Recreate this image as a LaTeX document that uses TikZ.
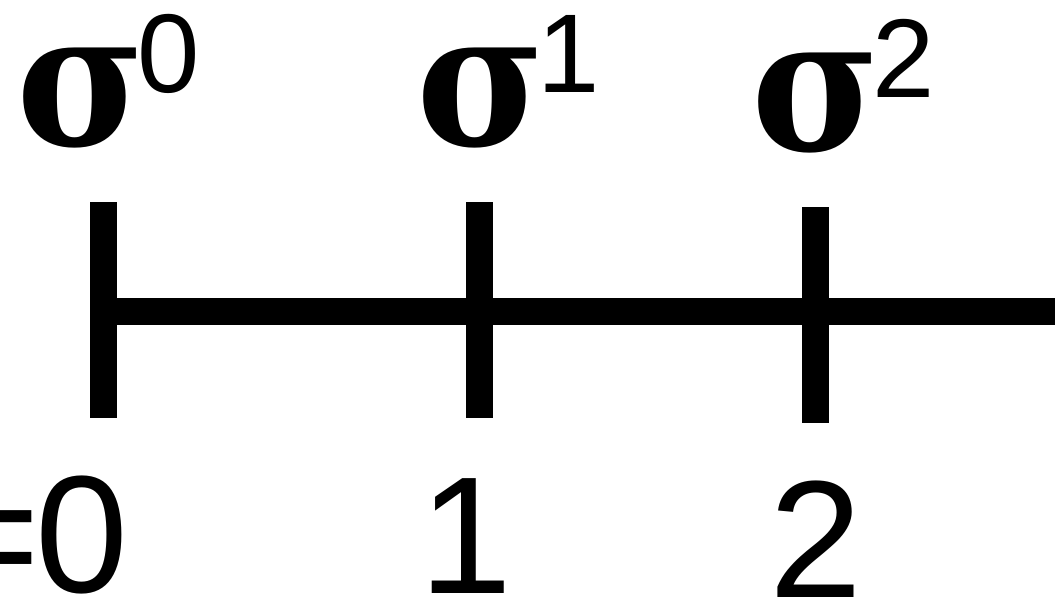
\documentclass[tikz,border=0pt]{standalone}
\usepackage{fontspec}
\newfontfamily\sigmafont{DejaVu Serif}
\newfontfamily\digitfont{Liberation Sans}
\newcommand\sigmasup[1]{\scalebox{0.93}[1]{\sigmafont\bfseries\fontsize{188}{188}\selectfont σ}\kern-8pt\raisebox{53pt}{\digitfont\fontsize{112}{112}\selectfont #1}}
\tikzset{
  tickbar/.style={line width=27pt},
  sigmalabel/.style={inner sep=0pt,anchor=base west},
  ticklabel/.style={inner sep=0pt,anchor=base,font=\digitfont\fontsize{167}{167}\selectfont}
}

\begin{document}
\begin{tikzpicture}[x=1pt,y=-1pt]
\useasboundingbox (0,0) rectangle (1055,598);
% axis
\coordinate (t0) at (103.5,311.5);
\coordinate (tend) at (1060,311.5);
\draw[tickbar] (t0) -- (tend);
\foreach \x/\top/\bot in {103.5/202/418,479.5/202/418,815.5/207/423}
  \draw[tickbar] (\x,\top) -- (\x,\bot);
% sigma labels
\node[sigmalabel] (s0) at (16,145) {\sigmasup{0}};
\node[sigmalabel] (s1) at (416,145) {\sigmasup{1}};
\node[sigmalabel] (s2) at (751,150) {\sigmasup{2}};
% tick labels
\node[ticklabel,anchor=base east] (n0) at (128,592) {=\kern-5pt 0};
\node[ticklabel] (n1) at (466,593) {1};
\node[ticklabel] (n2) at (815.5,597) {2};
\end{tikzpicture}
\end{document}
